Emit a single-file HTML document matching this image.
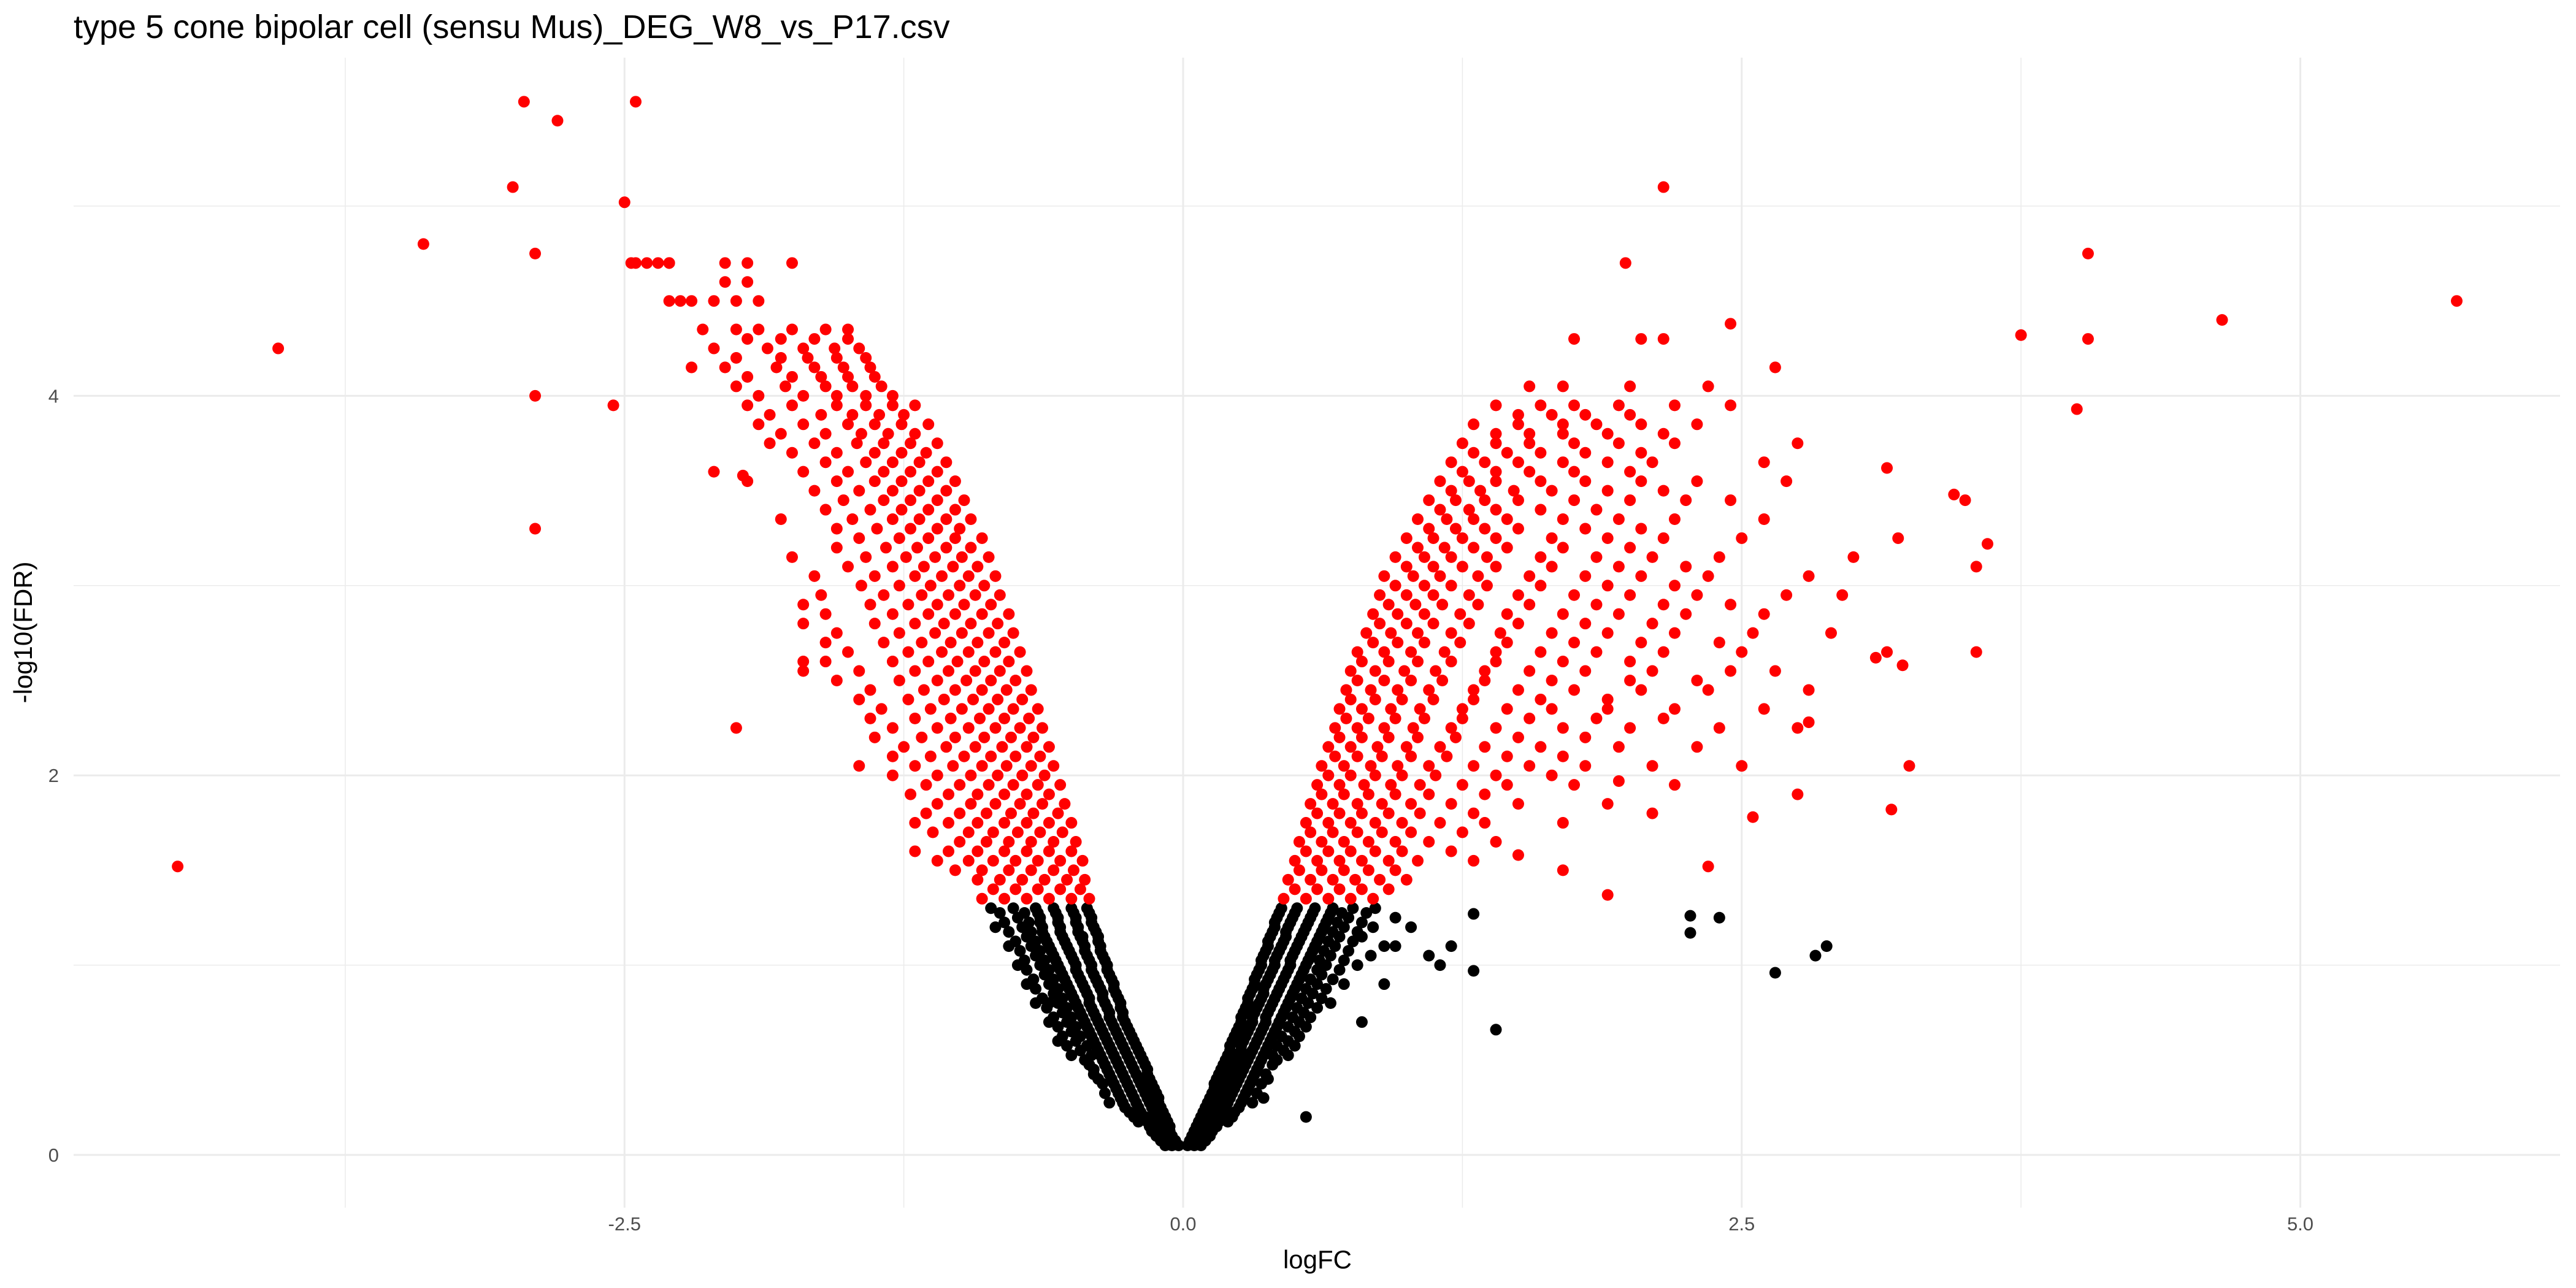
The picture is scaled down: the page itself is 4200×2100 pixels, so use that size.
<!DOCTYPE html>
<html><head><meta charset="utf-8"><style>
html,body{margin:0;padding:0;background:#fff;}
svg{display:block;font-family:"Liberation Sans",sans-serif;}
</style></head><body>
<svg id="chart" width="4200" height="2100" viewBox="0 0 4200 2100" xmlns="http://www.w3.org/2000/svg">
<text x="120" y="62" font-size="54" fill="#000">type 5 cone bipolar cell (sensu Mus)_DEG_W8_vs_P17.csv</text>
<g id="grid"></g>
<g id="pts"></g>
<g id="axes"></g>
<text x="2148" y="2068" font-size="42" text-anchor="middle" fill="#000">logFC</text>
<text transform="translate(52,1031) rotate(-90)" font-size="42" text-anchor="middle" fill="#000">-log10(FDR)</text>
</svg>
<script>
const xTicks=[-2.5,0,2.5,5];
const xTickLabels=["-2.5","0.0","2.5","5.0"];
const xMinor=[-3.75,-1.25,1.25,3.75];
const yTicks=[0,2,4];
const yTickLabels=["0","2","4"];
const yMinor=[1,3,5];

const blackLeftY=[0.05,0.1,0.15,0.2,0.25,0.3,0.35,0.4,0.45,0.5,0.55,0.6,0.65,0.7,0.75,0.8,0.85,0.9,0.95,1.0,1.05,1.1,1.15,1.2,1.25,1.3];
const blackLeftX=[[-0.02,-0.05,-0.08],[-0.05,-0.08,-0.12],[-0.06,-0.1,-0.15],[-0.08,-0.12,-0.17,-0.22],[-0.1,-0.14,-0.2,-0.26],[-0.11,-0.16,-0.22,-0.28],[-0.13,-0.18,-0.24,-0.3],[-0.15,-0.2,-0.26,-0.32,-0.38],[-0.16,-0.22,-0.28,-0.34,-0.4],[-0.18,-0.24,-0.3,-0.36,-0.44],[-0.2,-0.26,-0.32,-0.38,-0.46],[-0.22,-0.28,-0.34,-0.4,-0.48,-0.56],[-0.24,-0.3,-0.36,-0.42,-0.5],[-0.26,-0.32,-0.38,-0.44,-0.52,-0.6],[-0.27,-0.33,-0.4,-0.46,-0.54],[-0.28,-0.35,-0.42,-0.48,-0.56,-0.66],[-0.3,-0.36,-0.43,-0.5,-0.58],[-0.31,-0.38,-0.45,-0.52,-0.6,-0.7],[-0.33,-0.4,-0.47,-0.54,-0.62],[-0.34,-0.41,-0.48,-0.56,-0.64,-0.74],[-0.36,-0.43,-0.5,-0.58,-0.66],[-0.37,-0.44,-0.52,-0.6,-0.68,-0.78],[-0.38,-0.46,-0.54,-0.62,-0.7],[-0.4,-0.47,-0.55,-0.63,-0.72,-0.84],[-0.41,-0.48,-0.56,-0.64,-0.74],[-0.43,-0.5,-0.58,-0.66,-0.76,-0.86]];
const blackLeftMidY=[0.075,0.125,0.175,0.225,0.275,0.325,0.375,0.425,0.475,0.525,0.575,0.625,0.675,0.725,0.775,0.825,0.875,0.925,0.975,1.025,1.075,1.125,1.175,1.225,1.275];
const blackLeftMidX=[[-0.035,-0.065,-0.1],[-0.06,-0.1,-0.14],[-0.07,-0.11,-0.16,-0.2],[-0.09,-0.13,-0.19,-0.24],[-0.11,-0.15,-0.21,-0.27,-0.33],[-0.12,-0.17,-0.23,-0.29,-0.35],[-0.14,-0.19,-0.25,-0.31,-0.36],[-0.16,-0.21,-0.27,-0.33,-0.4],[-0.17,-0.23,-0.29,-0.35,-0.42],[-0.19,-0.25,-0.31,-0.37,-0.41,-0.5],[-0.21,-0.27,-0.33,-0.39,-0.43,-0.52],[-0.23,-0.29,-0.35,-0.41,-0.46,-0.54],[-0.25,-0.31,-0.37,-0.43,-0.48,-0.56],[-0.27,-0.33,-0.39,-0.45,-0.5,-0.58],[-0.28,-0.34,-0.41,-0.47,-0.52,-0.61],[-0.29,-0.36,-0.42,-0.49,-0.54,-0.63],[-0.31,-0.37,-0.44,-0.51,-0.56,-0.66],[-0.32,-0.39,-0.46,-0.53,-0.58,-0.67],[-0.34,-0.41,-0.48,-0.55,-0.6,-0.7],[-0.35,-0.42,-0.49,-0.57,-0.62,-0.71],[-0.37,-0.44,-0.51,-0.59,-0.64,-0.73],[-0.38,-0.45,-0.53,-0.61,-0.66,-0.75],[-0.39,-0.47,-0.55,-0.63,-0.68,-0.78],[-0.41,-0.48,-0.56,-0.64,-0.69,-0.8],[-0.42,-0.49,-0.57,-0.65,-0.71,-0.82]];
const blackRightY=blackLeftY;
const blackRightX=[[0.02,0.05,0.08],[0.04,0.08,0.12],[0.06,0.1,0.15],[0.08,0.12,0.17,0.22],[0.1,0.14,0.19,0.25],[0.12,0.16,0.21,0.27,0.36],[0.14,0.18,0.23,0.29],[0.15,0.2,0.25,0.31,0.38],[0.17,0.22,0.27,0.33],[0.19,0.24,0.29,0.35,0.42],[0.21,0.26,0.31,0.37,0.45],[0.22,0.27,0.33,0.39,0.47],[0.24,0.29,0.35,0.41,0.5],[0.26,0.31,0.37,0.43,0.52],[0.27,0.32,0.38,0.45,0.54],[0.29,0.34,0.4,0.47,0.56,0.66],[0.3,0.36,0.42,0.49,0.58],[0.32,0.37,0.44,0.51,0.6,0.72],[0.33,0.39,0.46,0.53,0.62],[0.35,0.41,0.48,0.55,0.64,0.78],[0.36,0.42,0.49,0.57,0.66,0.84],[0.38,0.44,0.51,0.59,0.68,0.9],[0.39,0.46,0.53,0.61,0.7,0.8],[0.41,0.47,0.55,0.63,0.72,0.85],[0.42,0.49,0.57,0.65,0.74,0.95],[0.44,0.51,0.59,0.67,0.76,0.86]];
const blackRightMidY=[0.075,0.125,0.175,0.225,0.275,0.325,0.375,0.425,0.475,0.525,0.575,0.625,0.675,0.725,0.775,0.825,0.875,0.925,0.975,1.025,1.075,1.125,1.175,1.225,1.275];
const blackRightMidX=[[0.03,0.065,0.1],[0.05,0.09,0.13],[0.07,0.11,0.16,0.2],[0.09,0.13,0.18,0.23],[0.11,0.15,0.2,0.26,0.31],[0.13,0.17,0.22,0.28,0.33],[0.14,0.19,0.24,0.3,0.35],[0.16,0.21,0.26,0.32,0.37],[0.18,0.23,0.28,0.34,0.4],[0.2,0.25,0.3,0.36,0.4,0.47],[0.21,0.26,0.32,0.38,0.42,0.5],[0.23,0.28,0.34,0.4,0.44,0.52],[0.25,0.3,0.36,0.42,0.47,0.55],[0.26,0.31,0.37,0.44,0.49,0.57],[0.28,0.33,0.39,0.46,0.51,0.6],[0.29,0.35,0.41,0.48,0.53,0.62],[0.31,0.36,0.43,0.5,0.55,0.64],[0.32,0.38,0.45,0.52,0.57,0.67],[0.34,0.4,0.47,0.54,0.6,0.7],[0.35,0.41,0.48,0.56,0.61,0.72],[0.37,0.43,0.5,0.58,0.63,0.74],[0.38,0.45,0.52,0.6,0.65,0.76],[0.4,0.46,0.54,0.62,0.67,0.78],[0.41,0.48,0.56,0.64,0.69,0.8],[0.43,0.5,0.58,0.66,0.71,0.82]];
const blackOutliers=[[1.3,1.27],[1.1,1.05],[1.15,1.0],[0.95,1.1],[1.3,0.97],[1.2,1.1],[1.4,0.66],[2.27,1.26],[2.27,1.17],[2.4,1.25],[2.65,0.96],[2.83,1.05],[2.88,1.1],[-0.6,0.8],[-0.45,1.15],[0.8,0.7],[0.9,0.9],[0.55,0.2],[1.02,1.2],[-0.7,1.15]];

const redLeftY=[1.35,1.45,1.55,1.65,1.75,1.85,1.95,2.05,2.15,2.25,2.35,2.45,2.55,2.65,2.75,2.85,2.95,3.05,3.15,3.25,3.35,3.45,3.55,3.65,3.75,3.85,3.95,4.05,4.15,4.25,4.35,4.5,4.6,4.7];
const redLeftX=[[-0.42,-0.5,-0.6,-0.7,-0.8,-0.9],[-0.44,-0.52,-0.62,-0.72,-0.82,-0.92],[-0.45,-0.55,-0.65,-0.75,-0.85,-0.96,-1.1],[-0.48,-0.58,-0.68,-0.78,-0.88,-1.0],[-0.5,-0.6,-0.7,-0.8,-0.92,-1.05,-1.2],[-0.53,-0.63,-0.73,-0.84,-0.95,-1.1],[-0.55,-0.65,-0.76,-0.87,-1.0,-1.15],[-0.58,-0.68,-0.79,-0.9,-1.03,-1.2,-1.45],[-0.6,-0.7,-0.81,-0.93,-1.06,-1.25],[-0.63,-0.73,-0.84,-0.96,-1.1,-1.3],[-0.65,-0.76,-0.87,-0.99,-1.13,-1.35],[-0.68,-0.79,-0.9,-1.02,-1.16,-1.4],[-0.7,-0.82,-0.93,-1.05,-1.2,-1.45,-1.7],[-0.73,-0.84,-0.96,-1.08,-1.23,-1.5],[-0.76,-0.87,-0.99,-1.11,-1.27,-1.55],[-0.78,-0.9,-1.02,-1.14,-1.3,-1.6],[-0.82,-0.93,-1.05,-1.17,-1.34,-1.62],[-0.84,-0.96,-1.08,-1.2,-1.38,-1.65],[-0.87,-0.99,-1.11,-1.24,-1.42,-1.75],[-0.9,-1.02,-1.14,-1.27,-1.45],[-0.95,-1.06,-1.18,-1.3,-1.48,-1.8],[-0.98,-1.1,-1.22,-1.34,-1.52],[-1.02,-1.14,-1.26,-1.38,-1.55,-1.95],[-1.06,-1.18,-1.3,-1.42,-1.6],[-1.1,-1.22,-1.34,-1.46,-1.65,-1.85],[-1.14,-1.26,-1.38,-1.5,-1.7,-1.9],[-1.2,-1.3,-1.42,-1.55,-1.75,-1.95],[-1.35,-1.48,-1.6,-1.78,-2.0],[-1.4,-1.52,-1.65,-1.82,-2.05,-2.2],[-1.45,-1.56,-1.7,-1.86,-2.1],[-1.5,-1.6,-1.75,-1.9,-2.0,-2.15],[-1.9,-2.0,-2.1,-2.2,-2.3],[-1.95,-2.05],[-1.75,-1.95,-2.05,-2.45,-2.35,-2.3]];
const redLeftMidY=[1.4,1.5,1.6,1.7,1.8,1.9,2.0,2.1,2.2,2.3,2.4,2.5,2.6,2.7,2.8,2.9,3.0,3.1,3.2,3.3,3.4,3.5,3.6,3.7,3.8,3.9,4.0,4.1,4.2,4.3];
const redLeftMidX=[[-0.46,-0.55,-0.65,-0.75,-0.85],[-0.49,-0.58,-0.68,-0.78,-0.9,-1.02],[-0.5,-0.6,-0.7,-0.8,-0.92,-1.05],[-0.54,-0.64,-0.74,-0.85,-0.96,-1.12],[-0.56,-0.67,-0.77,-0.88,-1.0,-1.15],[-0.6,-0.7,-0.8,-0.92,-1.05,-1.22],[-0.62,-0.72,-0.83,-0.95,-1.1,-1.3],[-0.64,-0.75,-0.86,-0.98,-1.13,-1.3],[-0.67,-0.77,-0.89,-1.02,-1.17,-1.38],[-0.69,-0.8,-0.91,-1.04,-1.2,-1.4],[-0.72,-0.83,-0.94,-1.07,-1.23,-1.45],[-0.75,-0.86,-0.97,-1.1,-1.27,-1.55],[-0.78,-0.89,-1.01,-1.14,-1.3,-1.6],[-0.8,-0.92,-1.04,-1.17,-1.34,-1.6],[-0.83,-0.95,-1.07,-1.2,-1.38,-1.7],[-0.86,-0.98,-1.1,-1.23,-1.4,-1.7],[-0.89,-1.0,-1.13,-1.27,-1.44],[-0.92,-1.03,-1.16,-1.3,-1.5],[-0.95,-1.06,-1.19,-1.33,-1.55],[-1.0,-1.1,-1.22,-1.37,-1.55],[-1.02,-1.14,-1.26,-1.4,-1.6],[-1.06,-1.18,-1.3,-1.45,-1.65],[-1.1,-1.22,-1.34,-1.5,-1.7],[-1.15,-1.26,-1.38,-1.55,-1.75],[-1.2,-1.32,-1.44,-1.6,-1.8],[-1.25,-1.36,-1.48,-1.62,-1.85],[-1.3,-1.42,-1.55,-1.7,-1.9],[-1.38,-1.5,-1.62,-1.75,-1.95],[-1.42,-1.55,-1.68,-1.8,-2.0],[-1.5,-1.65,-1.8,-1.95]];
const redLeftOutliers=[[-4.5,1.52],[-4.05,4.25],[-3.4,4.8],[-3.0,5.1],[-2.95,5.55],[-2.9,4.75],[-2.9,4.0],[-2.9,3.3],[-2.8,5.45],[-2.55,3.95],[-2.5,5.02],[-2.45,5.55],[-2.47,4.7],[-2.4,4.7],[-2.3,4.7],[-2.25,4.5],[-2.0,2.25],[-1.7,2.6],[-1.2,1.6],[-2.1,3.6],[-1.97,3.58]];

const redRightY=[1.35,1.45,1.55,1.65,1.75,1.85,1.95,2.05,2.15,2.25,2.35,2.45,2.55,2.65,2.75,2.85,2.95,3.05,3.15,3.25,3.35,3.45,3.55,3.65,3.75,3.85,3.95,4.05,4.3];
const redRightX=[[0.45,0.55,0.65,0.75,0.85],[0.47,0.57,0.67,0.77,0.88,1.0],[0.5,0.6,0.7,0.8,0.92,1.05,1.3],[0.52,0.62,0.72,0.83,0.95,1.1,1.4],[0.55,0.65,0.75,0.86,0.98,1.15,1.35,1.7],[0.57,0.67,0.78,0.89,1.02,1.2,1.5,1.9],[0.6,0.7,0.81,0.93,1.06,1.25,1.45,1.75,2.2],[0.62,0.72,0.84,0.96,1.1,1.3,1.55,1.8,2.1,2.5],[0.65,0.75,0.87,1.0,1.15,1.35,1.6,1.95,2.3],[0.68,0.78,0.9,1.03,1.2,1.4,1.7,2.0,2.4,2.75],[0.7,0.8,0.93,1.06,1.25,1.45,1.65,1.9,2.2,2.6],[0.73,0.84,0.96,1.1,1.3,1.5,1.75,2.05,2.35,2.8],[0.75,0.86,0.99,1.13,1.35,1.55,1.8,2.1,2.45,2.65],[0.78,0.9,1.02,1.17,1.4,1.6,1.85,2.15,2.5,3.15],[0.82,0.93,1.05,1.2,1.42,1.65,1.9,2.2,2.55,2.9],[0.85,0.96,1.08,1.24,1.45,1.7,1.95,2.25,2.6],[0.88,1.0,1.12,1.28,1.5,1.75,2.0,2.3,2.7,2.95],[0.9,1.03,1.15,1.32,1.55,1.8,2.05,2.35,2.8],[0.95,1.08,1.2,1.36,1.6,1.85,2.1,2.4,3.0],[1.0,1.12,1.25,1.4,1.65,1.9,2.15,2.5,3.2],[1.05,1.18,1.3,1.45,1.7,1.95,2.2,2.6],[1.1,1.22,1.35,1.5,1.75,2.0,2.25,2.45,3.5],[1.15,1.28,1.4,1.6,1.8,2.05,2.3,2.7],[1.2,1.35,1.5,1.7,1.9,2.1,2.6],[1.25,1.4,1.55,1.75,1.95,2.2,2.75],[1.3,1.5,1.7,1.85,2.05,2.3],[1.4,1.6,1.75,1.95,2.2,2.45],[1.55,1.7,2.0,2.35],[1.75,2.05,2.15]];
const redRightMidY=[1.4,1.5,1.6,1.7,1.8,1.9,2.0,2.1,2.2,2.3,2.4,2.5,2.6,2.7,2.8,2.9,3.0,3.1,3.2,3.3,3.4,3.5,3.6,3.7,3.8,3.9];
const redRightMidX=[[0.5,0.6,0.7,0.8,0.92],[0.52,0.62,0.72,0.83,0.95],[0.55,0.65,0.75,0.86,0.98,1.2],[0.57,0.67,0.78,0.89,1.02,1.25],[0.6,0.7,0.8,0.92,1.06,1.3],[0.62,0.72,0.83,0.95,1.1,1.35],[0.65,0.75,0.86,0.98,1.13,1.4,1.65],[0.68,0.78,0.89,1.02,1.18,1.45,1.7],[0.7,0.8,0.92,1.05,1.22,1.5,1.8],[0.73,0.83,0.95,1.08,1.25,1.55,1.85,2.15],[0.75,0.86,0.98,1.12,1.3,1.6,1.9],[0.78,0.9,1.02,1.16,1.35,1.65,2.0,2.3],[0.8,0.92,1.05,1.2,1.4,1.7,2.0],[0.85,0.96,1.08,1.24,1.45,1.75,2.05,2.4],[0.88,1.0,1.12,1.28,1.5,1.8,2.1],[0.92,1.04,1.16,1.32,1.55,1.85,2.15,2.45],[0.95,1.08,1.2,1.36,1.6,1.9,2.2],[1.0,1.12,1.25,1.4,1.65,1.95,2.25],[1.05,1.17,1.3,1.45,1.7,2.0],[1.1,1.22,1.35,1.5,1.8,2.05],[1.15,1.28,1.4,1.6,1.85],[1.2,1.33,1.48,1.65,1.9,2.15],[1.25,1.4,1.55,1.75,2.0],[1.3,1.45,1.6,1.8,2.05],[1.4,1.55,1.7,1.9,2.15],[1.5,1.65,1.8,2.0]];
const redRightOutliers=[[2.15,5.1],[1.98,4.7],[2.45,4.38],[2.65,4.15],[3.75,4.32],[4.05,4.75],[4.05,4.3],[4.0,3.93],[4.65,4.4],[5.7,4.5],[3.6,3.22],[3.55,3.1],[3.55,2.65],[3.45,3.48],[3.15,3.62],[3.25,2.05],[3.17,1.82],[3.22,2.58],[3.1,2.62],[2.8,2.28],[2.75,1.9],[2.55,1.78],[2.35,1.52],[1.9,1.37],[1.7,1.5],[2.1,1.8],[1.95,1.97],[1.5,1.58]];

const NS="http://www.w3.org/2000/svg";
const PX0=120,PX1=4174,PY0=94,PY1=1969;
const X=v=>1929+v*364.3;
const Y=v=>1883-v*309.4;
const grid=document.getElementById('grid'),pts=document.getElementById('pts'),axes=document.getElementById('axes');
function line(g,x1,y1,x2,y2,w){const l=document.createElementNS(NS,'line');l.setAttribute('x1',x1);l.setAttribute('y1',y1);l.setAttribute('x2',x2);l.setAttribute('y2',y2);l.setAttribute('stroke','#ebebeb');l.setAttribute('stroke-width',w);g.appendChild(l);return l;}
xMinor.forEach(v=>{const l=line(grid,X(v),PY0,X(v),PY1,1.5);

});
yMinor.forEach(v=>{const l=line(grid,PX0,Y(v),PX1,Y(v),1.5);

});
xTicks.forEach((v,i)=>{const l=line(grid,X(v),PY0,X(v),PY1,3);


const t=document.createElementNS(NS,'text');t.setAttribute('x',X(v));t.setAttribute('y',2006);t.setAttribute('font-size','31');t.setAttribute('fill','#4d4d4d');t.setAttribute('text-anchor','middle');t.textContent=xTickLabels[i];


axes.appendChild(t);});
yTicks.forEach((v,i)=>{const l=line(grid,PX0,Y(v),PX1,Y(v),3);


const t=document.createElementNS(NS,'text');t.setAttribute('x',96);t.setAttribute('y',Y(v)+11);t.setAttribute('font-size','31');t.setAttribute('fill','#4d4d4d');t.setAttribute('text-anchor','end');t.textContent=yTickLabels[i];


axes.appendChild(t);});
function dot(x,y,c,name){const d=document.createElementNS(NS,'circle');d.setAttribute('cx',X(x));d.setAttribute('cy',Y(y));d.setAttribute('r',9.5);d.setAttribute('fill',c);


pts.appendChild(d);}
function rows(ys,xs,c,name){ys.forEach((y,i)=>xs[i].forEach(x=>dot(x,y,c,name)));}
rows(blackLeftY,blackLeftX,'#000','nonsig-point');
rows(blackLeftMidY,blackLeftMidX,'#000','nonsig-point');
rows(blackRightY,blackRightX,'#000','nonsig-point');
rows(blackRightMidY,blackRightMidX,'#000','nonsig-point');
blackOutliers.forEach(p=>dot(p[0],p[1],'#000','nonsig-point'));
rows(redLeftY,redLeftX,'#ff0000','sig-point');
rows(redLeftMidY,redLeftMidX,'#ff0000','sig-point');
rows(redRightY,redRightX,'#ff0000','sig-point');
rows(redRightMidY,redRightMidX,'#ff0000','sig-point');
redLeftOutliers.forEach(p=>dot(p[0],p[1],'#ff0000','sig-point'));
redRightOutliers.forEach(p=>dot(p[0],p[1],'#ff0000','sig-point'));
</script>
</body></html>
